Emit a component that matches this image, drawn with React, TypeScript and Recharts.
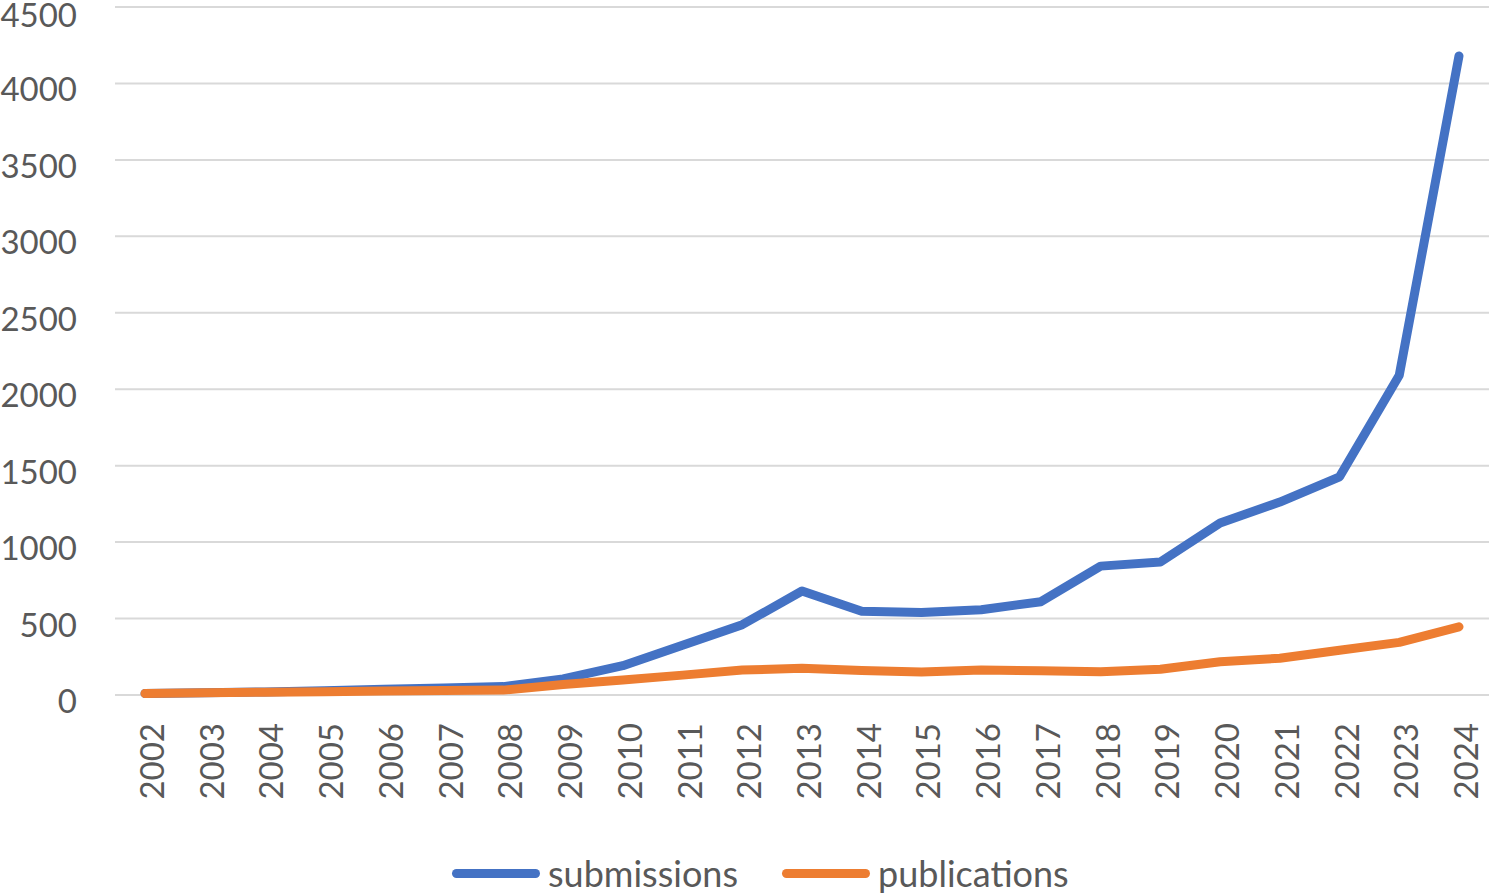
import React from "react";
import { LineChart, Line, XAxis, YAxis, CartesianGrid, Legend } from "recharts";

const years = [
	"2002", "2003", "2004", "2005", "2006", "2007", "2008", "2009", "2010", "2011", "2012", "2013",
	"2014", "2015", "2016", "2017", "2018", "2019", "2020", "2021", "2022", "2023", "2024",
];
const submissions = [
	10, 15, 20, 28, 38, 45, 55, 105, 192, 325, 460, 680, 548, 540, 558, 610, 843, 870, 1125, 1262, 1427,
	2092, 4180,
];
const publications = [
	10, 15, 18, 22, 26, 30, 32, 68, 98, 130, 163, 175, 160, 150, 163, 158, 152, 168, 218, 240, 293, 344,
	446,
];
const yTicks = [0, 500, 1000, 1500, 2000, 2500, 3000, 3500, 4000, 4500];

const BLUE = "#4472C4";
const ORANGE = "#ED7D31";
const TEXT = "#595959";
const FONT = "Lato, 'Open Sans', sans-serif";

const data = years.map((year, i) => ({
	year,
	submissions: submissions[i],
	publications: publications[i],
}));

const XTick = ({ x, y, payload }: any) => (
	<text
		x={x + 6}
		y={y + 26}
		transform={`rotate(-90, ${x + 6}, ${y + 26})`}
		textAnchor="end"
		dominantBaseline="central"
		fill={TEXT}
		fontSize={33}
		fontFamily={FONT}>
		{payload.value}
	</text>
);

const YTick = ({ x, y, payload }: any) => (
	<text
		x={x}
		y={y + 5}
		textAnchor="end"
		dominantBaseline="central"
		fill={TEXT}
		fontSize={33}
		fontFamily={FONT}>
		{payload.value}
	</text>
);

const renderLegend = () => (
	<div
		style={{
			height: 40,
			display: "flex",
			alignItems: "center",
			paddingLeft: 452,
			fontFamily: FONT,
			fontSize: 36,
			color: TEXT,
			transform: "translateY(-2px)",
		}}>
		{[
			{ name: "submissions", color: BLUE },
			{ name: "publications", color: ORANGE },
		].map((item, i) => (
			<div
				key={item.name}
				style={{ display: "flex", alignItems: "center", marginLeft: i ? 44 : 0 }}>
				<span
					style={{
						display: "inline-block",
						width: 88,
						height: 9,
						borderRadius: 5,
						background: item.color,
						marginRight: 8,
					}}
				/>
				<span style={{ lineHeight: "40px" }}>{item.name}</span>
			</div>
		))}
	</div>
);

export default function App() {
	return (
		<div style={{ position: "absolute", left: 0, top: 0 }}>
			<LineChart
				width={1489}
				height={895}
				data={data}
				margin={{ top: 7, right: 0, bottom: 0, left: 0 }}>
				<CartesianGrid vertical={false} stroke="#d9d9d9" strokeWidth={2} />
				<XAxis
					dataKey="year"
					axisLine={false}
					tickLine={false}
					tickSize={0}
					height={160}
					interval={0}
					padding={{ left: 30, right: 30 }}
					tick={<XTick />}
				/>
				<YAxis
					domain={[0, 4500]}
					ticks={yTicks}
					axisLine={false}
					tickLine={false}
					tickSize={0}
					tickMargin={38}
					width={115}
					tick={<YTick />}
				/>
				<Legend
					verticalAlign="bottom"
					content={renderLegend}
					wrapperStyle={{ left: 0, width: 1489, bottom: 0 }}
				/>
				<Line
					dataKey="submissions"
					stroke={BLUE}
					strokeWidth={9}
					strokeLinecap="round"
					strokeLinejoin="round"
					dot={false}
					isAnimationActive={false}
				/>
				<Line
					dataKey="publications"
					stroke={ORANGE}
					strokeWidth={9}
					strokeLinecap="round"
					strokeLinejoin="round"
					dot={false}
					isAnimationActive={false}
				/>
			</LineChart>
		</div>
	);
}
